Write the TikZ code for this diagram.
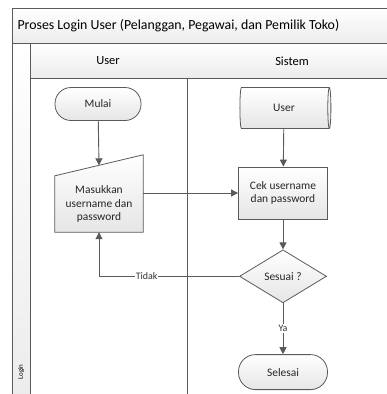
\documentclass[tikz,border=0pt]{standalone}
\usepackage{fontspec}
\setmainfont{Carlito}
\usetikzlibrary{shapes.geometric,arrows.meta,positioning,backgrounds,calc}
\definecolor{linegray}{HTML}{5A5A5A}
\definecolor{bandgray}{HTML}{ECECEC}

\begin{document}
\begin{tikzpicture}[
    x=1bp, y=-1bp,
    font=\fontsize{11.5}{13.5}\selectfont,
    lane/.style={draw=linegray, line width=0.9bp},
    band/.style={lane, top color=white, bottom color=bandgray},
    box/.style={rectangle, draw=linegray, line width=0.8bp, top color=white, bottom color=gray!20, align=center, text=black!85},
    term/.style={box, rounded corners=16bp, minimum width=86bp, minimum height=33bp},
    store/.style={cylinder, draw=linegray, line width=0.8bp, top color=white, bottom color=gray!20, shape aspect=0.22, minimum width=41bp, minimum height=91bp, text=black!85},
    decision/.style={diamond, draw=linegray, line width=0.8bp, top color=white, bottom color=gray!20, aspect=1.64, inner sep=0pt, minimum width=87bp, minimum height=53bp, text=black!85},
    manual/.style={rectangle, align=center, text=black!85, minimum width=88bp, minimum height=56bp},
    tag/.style={fill=white, inner sep=1bp, font=\fontsize{10}{11}\selectfont, text=black!80},
    arrow/.style={-{Triangle[length=7bp,width=7bp]}, draw=linegray, line width=0.9bp}
]
    \clip (0,0) rectangle (387,394);

    % Swimlanes
    \path[band] (12,8) rectangle (400,43);
    \path[band] (12,43) rectangle (30,400);
    \path[band] (30,43) rectangle (400,78);
    \draw[lane] (30,78) rectangle (187,400);
    \draw[lane] (187,78) rectangle (400,400);
    \node[anchor=west, font=\fontsize{13.9}{15}\selectfont] (title) at (14,26) {Proses Login User (Pelanggan, Pegawai, dan Pemilik Toko)};
    \node[font=\fontsize{12.5}{14}\selectfont] (laneuser) at (108,61) {User};
    \node[font=\fontsize{12.5}{14}\selectfont] (lanesys) at (292,61) {Sistem};
    \node[rotate=90, font=\fontsize{7}{8}\selectfont] (login) at (21,372) {Login};

    % Nodes
    \node[term] (mulai) at (98,104) {Mulai};
    \node[manual] (masuk) at (99,204) {Masukkan\\username dan\\password};
    \node[store] (db) at (284,108) {User};
    \node[box, minimum width=89bp, minimum height=52bp] (cek) at (283,193) {Cek username\\dan password};
    \node[decision, below=30bp of cek] (sesuai) {Sesuai ?};
    \node[term, minimum width=89bp, minimum height=35bp, rounded corners=17bp, below=51bp of sesuai] (selesai) {Selesai};
    \coordinate (masuktop) at ($(masuk.north)+(0,10.5bp)$);

    % Manual input outline
    \begin{scope}[on background layer]
        \draw[draw=linegray, line width=0.8bp, top color=white, bottom color=gray!20]
            (masuk.south west) -- (masuk.south east) -- ($(masuk.north east)+(0,21bp)$) -- (masuk.north west) -- cycle;
    \end{scope}

    % Arrows
    \draw[arrow] (mulai) -- (masuktop);
    \draw[arrow] (cek.west -| masuk.east) -- (cek.west);
    \draw[arrow] (db) -- (cek);
    \draw[arrow] (cek) -- (sesuai);
    \draw[arrow] (sesuai.west) -| node[tag, pos=0.33] {Tidak} (masuk.south);
    \draw[arrow] (sesuai) -- node[tag] {Ya} (selesai);
\end{tikzpicture}
\end{document}
